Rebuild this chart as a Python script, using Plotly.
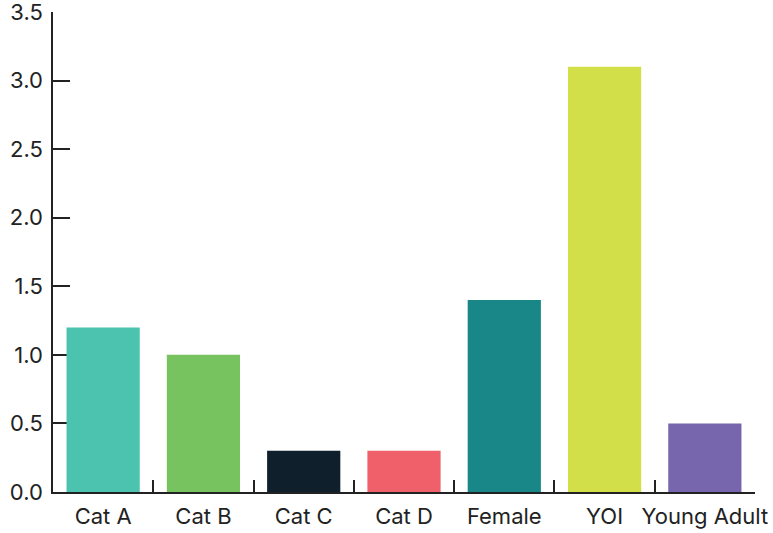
import plotly.graph_objects as go

categories = ["Cat A", "Cat B", "Cat C", "Cat D", "Female", "YOI", "Young Adult"]
values = [1.2, 1.0, 0.3, 0.3, 1.4, 3.1, 0.5]
colors = ["#4cc3ae", "#77c35f", "#0f1f2c", "#f0606a", "#198787", "#d2df48", "#7766ae"]
y_ticks = [0, 0.5, 1.0, 1.5, 2.0, 2.5, 3.0, 3.5]

fig = go.Figure(
    go.Bar(
        x=categories,
        y=values,
        marker=dict(color=colors, line=dict(width=0)),
        hoverinfo="x+y",
    )
)

fig.update_layout(
    width=773,
    height=533,
    margin=dict(l=53, r=18, t=12, b=41),
    plot_bgcolor="white",
    paper_bgcolor="white",
    bargap=0.27,
    showlegend=False,
    font=dict(family="Inter, Roboto, sans-serif", size=22, color="#222222"),
)

fig.update_xaxes(
    showgrid=False,
    showline=True,
    linecolor="#222222",
    linewidth=1.5,
    ticks="inside",
    tickson="boundaries",
    ticklen=12,
    tickwidth=1.5,
    tickcolor="#222222",
    tickangle=0,
    automargin=False,
    ticklabelstandoff=4,
    ticklabeloverflow="allow",
    tickfont=dict(size=22, color="#222222"),
)

fig.update_yaxes(
    range=[0, 3.5],
    tickvals=y_ticks,
    tickformat=".1f",
    showgrid=False,
    zeroline=False,
    showline=True,
    linecolor="#222222",
    linewidth=1.5,
    ticks="inside",
    ticklen=17,
    tickwidth=1.5,
    tickcolor="#222222",
    automargin=False,
    ticklabelstandoff=4,
    ticklabeloverflow="allow",
    tickfont=dict(size=22, color="#222222"),
    layer="below traces",
)

fig.write_html("out.html")
